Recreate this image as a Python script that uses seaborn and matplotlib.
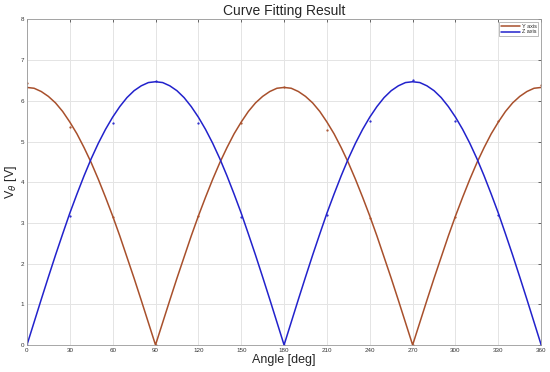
import matplotlib
matplotlib.use("Agg")
import matplotlib.pyplot as plt
import numpy as np
import pandas as pd
import seaborn as sns

# fitted curves, read every 5 deg
angle_fit = list(range(0, 361, 5))
y_fit = [6.33, 6.31, 6.23, 6.11, 5.95, 5.74, 5.48, 5.19, 4.85, 4.48,
         4.07, 3.63, 3.17, 2.68, 2.16, 1.64, 1.10, 0.55, 0.00,
         0.55, 1.10, 1.64, 2.16, 2.68, 3.17, 3.63, 4.07, 4.48,
         4.85, 5.19, 5.48, 5.74, 5.95, 6.11, 6.23, 6.31, 6.33,
         6.31, 6.23, 6.11, 5.95, 5.74, 5.48, 5.19, 4.85, 4.48,
         4.07, 3.63, 3.17, 2.68, 2.16, 1.64, 1.10, 0.55, 0.00,
         0.55, 1.10, 1.64, 2.16, 2.68, 3.17, 3.63, 4.07, 4.48,
         4.85, 5.19, 5.48, 5.74, 5.95, 6.11, 6.23, 6.31, 6.33]
z_fit = [0.00, 0.56, 1.12, 1.67, 2.21, 2.73, 3.24, 3.71, 4.16, 4.58,
         4.96, 5.30, 5.60, 5.86, 6.08, 6.25, 6.37, 6.45, 6.47,
         6.45, 6.37, 6.25, 6.08, 5.86, 5.60, 5.30, 4.96, 4.58,
         4.16, 3.71, 3.24, 2.73, 2.21, 1.67, 1.12, 0.56, 0.00,
         0.56, 1.12, 1.67, 2.21, 2.73, 3.24, 3.71, 4.16, 4.58,
         4.96, 5.30, 5.60, 5.86, 6.08, 6.25, 6.37, 6.45, 6.47,
         6.45, 6.37, 6.25, 6.08, 5.86, 5.60, 5.30, 4.96, 4.58,
         4.16, 3.71, 3.24, 2.73, 2.21, 1.67, 1.12, 0.56, 0.00]

# measured points every 30 deg
angle_meas = [0, 30, 60, 90, 120, 150, 180, 210, 240, 270, 300, 330, 360]
y_meas = [6.44, 5.36, 3.15, 0.0, 3.18, 5.45, 6.35, 5.28, 3.12, 0.0, 3.15, 5.5, 6.4]
z_meas = [0.0, 3.17, 5.45, 6.48, 5.45, 3.15, 0.0, 3.2, 5.5, 6.52, 5.5, 3.2, 0.0]

x_ticks = list(range(0, 361, 30))
y_ticks = list(range(0, 9))

y_color = "#a8502c"
z_color = "#2222cc"

sns.set_style("white")
plt.rcParams["font.family"] = ["Liberation Sans", "DejaVu Sans"]

fig = plt.figure(figsize=(5.5, 3.72), dpi=100)
ax = fig.add_axes([0.049, 0.0726, 0.935, 0.875])

fit_df = pd.DataFrame({"angle": angle_fit, "Y axis": y_fit, "Z axis": z_fit})
sns.lineplot(data=fit_df, x="angle", y="Y axis", color=y_color, lw=1.1,
             label="Y axis", ax=ax)
sns.lineplot(data=fit_df, x="angle", y="Z axis", color=z_color, lw=1.1,
             label="Z axis", ax=ax)
ax.plot(angle_meas, y_meas, ".", color=y_color, ms=1.2)
ax.plot(angle_meas, z_meas, ".", color=z_color, ms=1.2)

ax.set_xlim(0, 360)
ax.set_ylim(0, 8)
ax.set_xticks(x_ticks)
ax.set_yticks(y_ticks)
ax.grid(True, color="#e4e4e4", lw=0.7)
ax.tick_params(direction="in", labelsize=4.5, length=2.5, width=0.5,
               top=True, right=True, colors="#333333", pad=2)
for s in ax.spines.values():
    s.set_color("#999999")
    s.set_linewidth(0.6)

ax.set_title("Curve Fitting Result", fontsize=10, pad=3)
ax.set_xlabel("Angle [deg]", fontsize=9, labelpad=1)
ax.set_ylabel(r"V$_\theta$ [V]", fontsize=9, labelpad=1)

leg = ax.legend(loc="upper right", fontsize=4, frameon=True, fancybox=False,
                handlelength=3.5, borderpad=0.3, labelspacing=0.1,
                handletextpad=0.3)
leg.get_frame().set_edgecolor("#888888")
leg.get_frame().set_linewidth(0.5)

fig.savefig("out.png", dpi=100)
